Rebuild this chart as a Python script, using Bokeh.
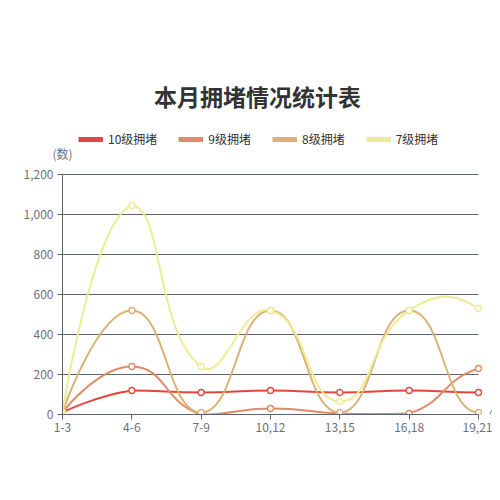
import numpy as np
from bokeh.plotting import figure
from bokeh.models import (Range1d, FixedTicker, Label, Legend, LegendItem,
                          NumeralTickFormatter, ColumnDataSource)
from bokeh.embed import file_html
from bokeh.resources import INLINE

# ---------------- data ----------------
categories = ["1-3", "4-6", "7-9", "10,12", "13,15", "16,18", "19,21"]
series_names = ["10级拥堵", "9级拥堵", "8级拥堵", "7级拥堵"]
level10 = [10, 120, 110, 120, 110, 120, 110]
level9 = [10, 240, 0, 30, 5, 5, 230]
level8 = [10, 520, 10, 520, 10, 520, 10]
level7 = [10, 1045, 240, 520, 65, 520, 530]
# values just past the end of the axis (not shown), estimated from the end tangents
hidden_next = [120, 230, 520, 60]
y_ticks = [0, 200, 400, 600, 800, 1000, 1200]
title_text = "本月拥堵情况统计表"
y_name = "(数)"
x_name = "(时)"

# ---------------- style / layout ----------------
colors = ["#e3463c", "#de8b66", "#dbb374", "#ecec94"]
FONT = "Noto Sans CJK SC"
AXIS_COLOR = "#5c6370"
LABEL_COLOR = "#6e7079"

W, H = 492, 484
AXIS_X = 62          # pixel position of the y axis (first category)
LAST_X = 478         # pixel position of the last category
GRID_TOP = 174       # pixel position of the top tick
AXIS_Y = 414         # pixel position of the x axis
PX_PER_CAT = (LAST_X - AXIS_X) / (len(categories) - 1)
PX_PER_UNIT = (AXIS_Y - GRID_TOP) / y_ticks[-1]

x_end = (W - AXIS_X) / PX_PER_CAT
y_end = AXIS_Y / PX_PER_UNIT

xs = list(range(len(categories)))

p = figure(width=W, height=H, output_backend="svg", toolbar_location=None,
           x_range=Range1d(0, x_end), y_range=Range1d(0, y_end),
           min_border_left=AXIS_X, min_border_right=0,
           min_border_top=0, min_border_bottom=H - AXIS_Y)
p.title.visible = False
p.outline_line_color = None
p.background_fill_color = "white"
p.border_fill_color = "white"
p.xgrid.visible = False
p.ygrid.visible = False

for ax in (p.xaxis[0], p.yaxis[0]):
    ax.axis_line_color = AXIS_COLOR
    ax.major_tick_line_color = AXIS_COLOR
    ax.major_tick_out = 5
    ax.major_tick_in = 0
    ax.minor_tick_line_color = None
    ax.major_label_text_font = FONT
    ax.major_label_text_font_size = "12px"
    ax.major_label_text_color = LABEL_COLOR

p.yaxis.ticker = FixedTicker(ticks=y_ticks)
p.yaxis.formatter = NumeralTickFormatter(format="0,0")
p.yaxis.major_label_standoff = 4
p.yaxis.bounds = (y_ticks[0], y_ticks[-1])
p.xaxis.ticker = FixedTicker(ticks=xs)
p.xaxis.major_label_overrides = {i: c for i, c in enumerate(categories)}
p.xaxis.major_label_standoff = 3
p.xaxis.bounds = (0, len(categories) - 1)

# horizontal grid lines, limited to the category span
p.segment(x0=[0] * len(y_ticks), x1=[len(categories) - 1] * len(y_ticks),
          y0=y_ticks, y1=y_ticks, line_color=AXIS_COLOR, line_width=1)


def smooth_segments(xv, yv, next_val, smooth=0.5):
    """ECharts(4)-style smoothed polyline -> cubic bezier segments in data space."""
    k = np.array([PX_PER_CAT, PX_PER_UNIT])
    P = np.column_stack([list(xv) + [xv[-1] + 1], list(yv) + [next_val]]).astype(float) * k
    lo, hi = P.min(axis=0), P.max(axis=0)
    n = len(xv)
    segs = []
    cp0 = P[0].copy()
    for i in range(1, n):
        pt, prev, nxt = P[i], P[i - 1], P[i + 1]
        v = nxt - prev
        d0 = np.hypot(*(pt - prev))
        d1 = np.hypot(*(nxt - pt))
        r = d1 / (d0 + d1)
        cp1 = pt - v * smooth * (1 - r)
        segs.append((prev, np.clip(cp0, lo, hi), np.clip(cp1, lo, hi), pt))
        cp0 = pt + v * smooth * r
    cols = {key: [] for key in ("x0", "y0", "cx0", "cy0", "cx1", "cy1", "x1", "y1")}
    for a, b, c, d in segs:
        a, b, c, d = a / k, b / k, c / k, d / k
        cols["x0"].append(a[0]); cols["y0"].append(a[1])
        cols["cx0"].append(b[0]); cols["cy0"].append(b[1])
        cols["cx1"].append(c[0]); cols["cy1"].append(c[1])
        cols["x1"].append(d[0]); cols["y1"].append(d[1])
    return cols


all_series = [level10, level9, level8, level7]
legend_items = []
for name, vals, nv, col in zip(series_names, all_series, hidden_next, colors):
    seg = ColumnDataSource(smooth_segments(xs, vals, nv))
    p.bezier(x0="x0", y0="y0", x1="x1", y1="y1", cx0="cx0", cy0="cy0",
             cx1="cx1", cy1="cy1", source=seg, line_color=col, line_width=2)
    p.scatter(xs, vals, marker="circle", size=6, fill_color="white",
              line_color=col, line_width=1.3)
    dummy = p.line(x=[np.nan], y=[np.nan], line_color=col, line_width=5)
    legend_items.append(LegendItem(label=name, renderers=[dummy]))

legend = Legend(items=legend_items, orientation="horizontal",
                location=(78 - AXIS_X, AXIS_Y - 147),
                glyph_width=25, glyph_height=14, label_height=14, label_standoff=5,
                spacing=21, padding=0, margin=0, border_line_alpha=0,
                background_fill_alpha=0, label_text_font=FONT,
                label_text_font_size="12px", label_text_color="#333333")
p.add_layout(legend)

p.add_layout(Label(x=257 - AXIS_X, y=AXIS_Y - 95, x_units="screen", y_units="screen",
                   text=title_text, text_font=FONT, text_font_size="23px",
                   text_font_style="bold", text_color="#333333",
                   text_align="center", text_baseline="middle"))
p.add_layout(Label(x=AXIS_X, y=AXIS_Y - 153, x_units="screen", y_units="screen",
                   text=y_name, text_font=FONT, text_font_size="12px",
                   text_color=LABEL_COLOR, text_align="center", text_baseline="middle"),
             "left")
p.add_layout(Label(x=488 - AXIS_X, y=0, x_units="screen", y_units="screen",
                   text=x_name, text_font=FONT, text_font_size="12px",
                   text_color=LABEL_COLOR, text_align="left", text_baseline="middle"))

open("out.html", "w").write(file_html(p, INLINE))
